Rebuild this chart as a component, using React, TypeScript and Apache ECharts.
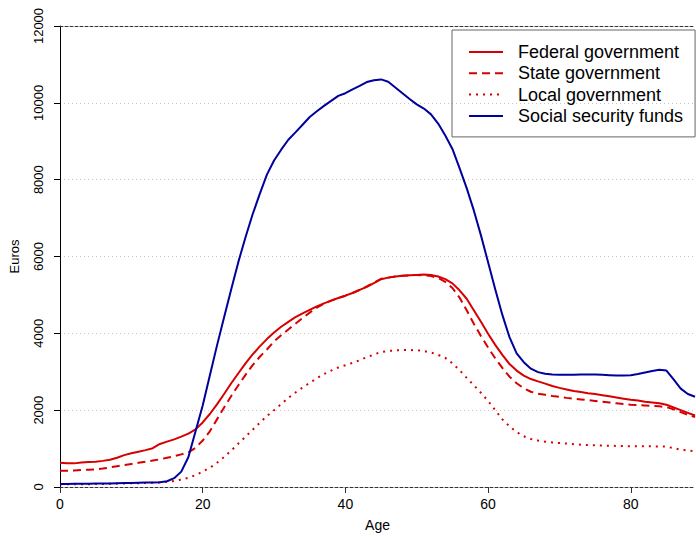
import React, { useEffect, useRef } from "react";
import * as echarts from "echarts";

const ages = [
  0, 1, 2, 3, 4, 5, 6, 7, 8, 9, 10, 11, 12, 13, 14, 15, 16, 17, 18, 19,
  20, 21, 22, 23, 24, 25, 26, 27, 28, 29, 30, 31, 32, 33, 34, 35, 36, 37, 38, 39,
  40, 41, 42, 43, 44, 45, 46, 47, 48, 49, 50, 51, 52, 53, 54, 55, 56, 57, 58, 59,
  60, 61, 62, 63, 64, 65, 66, 67, 68, 69, 70, 71, 72, 73, 74, 75, 76, 77, 78, 79,
  80, 81, 82, 83, 84, 85, 86, 87, 88, 89,
];

const federal = [
  630, 620, 615, 640, 650, 660, 680, 710, 760, 830, 880, 920, 960, 1010, 1120, 1180, 1240, 1310, 1390, 1500,
  1680, 1900, 2150, 2420, 2700, 2960, 3220, 3450, 3660, 3850, 4020, 4170, 4300, 4420, 4520, 4610, 4700, 4780, 4850, 4920,
  4980, 5050, 5130, 5210, 5310, 5410, 5450, 5480, 5500, 5510, 5520, 5530, 5520, 5480, 5410, 5300, 5120, 4900, 4600, 4300,
  3990, 3700, 3440, 3200, 3030, 2900, 2810, 2750, 2690, 2630, 2580, 2540, 2500, 2470, 2440, 2420, 2390, 2360, 2330, 2300,
  2270, 2250, 2220, 2200, 2180, 2140, 2070, 2000, 1930, 1860,
];

const state = [
  420, 420, 430, 440, 450, 460, 480, 510, 540, 570, 600, 630, 660, 690, 720, 760, 800, 850, 900, 1020,
  1210, 1450, 1760, 2070, 2370, 2650, 2920, 3170, 3390, 3580, 3790, 3950, 4100, 4250, 4400, 4540, 4670, 4770, 4850, 4920,
  4980, 5050, 5130, 5220, 5320, 5420, 5450, 5480, 5500, 5510, 5520, 5510, 5490, 5440, 5340, 5180, 4930, 4600, 4250, 3930,
  3630, 3350, 3100, 2870, 2700, 2570, 2480, 2430, 2400, 2370, 2350, 2320, 2300, 2280, 2260, 2240, 2220, 2200, 2180, 2160,
  2140, 2130, 2120, 2110, 2100, 2080, 2020, 1950, 1880, 1820,
];

const local = [
  70, 70, 70, 72, 74, 76, 80, 84, 88, 92, 96, 100, 106, 112, 120, 135, 160, 190, 240, 310,
  400, 500, 630, 780, 950, 1130, 1310, 1490, 1670, 1850, 2000, 2160, 2320, 2460, 2590, 2710, 2830, 2940, 3030, 3110,
  3170, 3230, 3300, 3380, 3450, 3510, 3540, 3555, 3565, 3565, 3560, 3540, 3500, 3440, 3360, 3220, 3040, 2840, 2650, 2450,
  2240, 2000, 1760, 1580, 1430, 1320, 1250, 1210, 1180, 1160, 1145, 1130, 1115, 1100, 1090, 1085, 1080, 1075, 1070, 1065,
  1060, 1060, 1060, 1060, 1055, 1050, 1010, 970, 950, 930,
];

const social = [
  80, 80, 82, 84, 86, 88, 90, 94, 98, 102, 106, 110, 114, 118, 125, 150, 230, 400, 780, 1450,
  2120, 2900, 3680, 4420, 5150, 5860, 6500, 7100, 7630, 8130, 8500, 8780, 9040, 9230, 9430, 9630, 9780, 9920, 10050, 10180,
  10250, 10350, 10440, 10540, 10590, 10610, 10550, 10400, 10250, 10100, 9960, 9850, 9700, 9460, 9150, 8800, 8300, 7780, 7200, 6550,
  5850, 5150, 4480, 3900, 3480, 3250, 3080, 2990, 2950, 2930, 2920, 2920, 2925, 2930, 2930, 2930, 2920, 2910, 2900, 2900,
  2910, 2940, 2980, 3020, 3050, 3030, 2800, 2560, 2420, 2350,
];

const xTicks = [0, 20, 40, 60, 80];
const seriesNames = ["Federal government", "State government", "Local government", "Social security funds"];

const RED = "#d70000";
const BLUE = "#00009c";
const FONT = "'Liberation Sans', Arial, Helvetica, sans-serif";

export default function App() {
  const ref = useRef<HTMLDivElement>(null);

  useEffect(() => {
    if (!ref.current) return;
    const chart = echarts.init(ref.current, null, { renderer: "svg" });
    const pairs = (vals: number[]) => ages.map((a, i) => [a, vals[i]]);
    const mk = (name: string, vals: number[], color: string, type: any) => ({
      name,
      type: "line",
      data: pairs(vals),
      symbol: "none",
      showSymbol: false,
      smooth: false,
      lineStyle: { color, width: 2, type },
      itemStyle: { color },
      emphasis: { disabled: true },
    });
    chart.setOption({
      animation: false,
      textStyle: { fontFamily: FONT },
      grid: { left: 54, right: 1, top: 26, bottom: 46, containLabel: false },
      legend: {
        orient: "vertical",
        left: 452,
        top: 30,
        data: seriesNames,
        borderColor: "#666",
        borderWidth: 1,
        padding: [13, 12, 12, 16],
        itemGap: 3.3,
        itemWidth: 34,
        itemHeight: 14,
        itemStyle: { opacity: 0 },
        textStyle: { fontSize: 18, color: "#000", fontFamily: FONT, padding: [0, 0, 0, 10], lineHeight: 18 },
      },
      xAxis: [
        {
          type: "value",
          min: 0,
          max: 89,
          position: "bottom",
          name: "Age",
          nameLocation: "middle",
          nameGap: 31,
          nameTextStyle: { fontSize: 14, color: "#000" },
          axisLine: { show: true, onZero: false, lineStyle: { color: "#333", width: 1, type: [3, 2] } },
          axisTick: { show: true, customValues: xTicks, length: 6, lineStyle: { color: "#333" } },
          axisLabel: { customValues: xTicks, fontSize: 14, color: "#000", margin: 10 },
          splitLine: { show: false },
        },
        {
          type: "value",
          min: 0,
          max: 89,
          position: "top",
          axisLine: { show: true, onZero: false, lineStyle: { color: "#333", width: 1, type: [3, 2] } },
          axisTick: { show: false },
          axisLabel: { show: false },
          splitLine: { show: false },
        },
      ],
      yAxis: {
        type: "value",
        min: 0,
        max: 12000,
        interval: 2000,
        name: "Euros",
        nameLocation: "middle",
        nameRotate: 90,
        nameGap: 39,
        nameTextStyle: { fontSize: 13, color: "#000" },
        axisLine: { show: true, lineStyle: { color: "#000", width: 1 } },
        axisTick: { show: true, length: 6, lineStyle: { color: "#000" } },
        axisLabel: {
          rotate: 90,
          fontSize: 13,
          color: "#000",
          margin: 15,
          formatter: (v: number) => String(v),
        },
        splitLine: {
          show: true,
          showMinLine: false,
          showMaxLine: false,
          lineStyle: { color: "#c4c4c4", width: 1, type: [1, 3] },
        },
      },
      series: [
        mk(seriesNames[0], federal, RED, "solid"),
        mk(seriesNames[1], state, RED, [8, 5]),
        mk(seriesNames[2], local, RED, [2, 5]),
        mk(seriesNames[3], social, BLUE, "solid"),
      ],
    });
    return () => chart.dispose();
  }, []);

  return (
    <div
      ref={ref}
      style={{ position: "absolute", left: 0, top: 0, width: 696, height: 537, background: "#fff" }}
    />
  );
}
